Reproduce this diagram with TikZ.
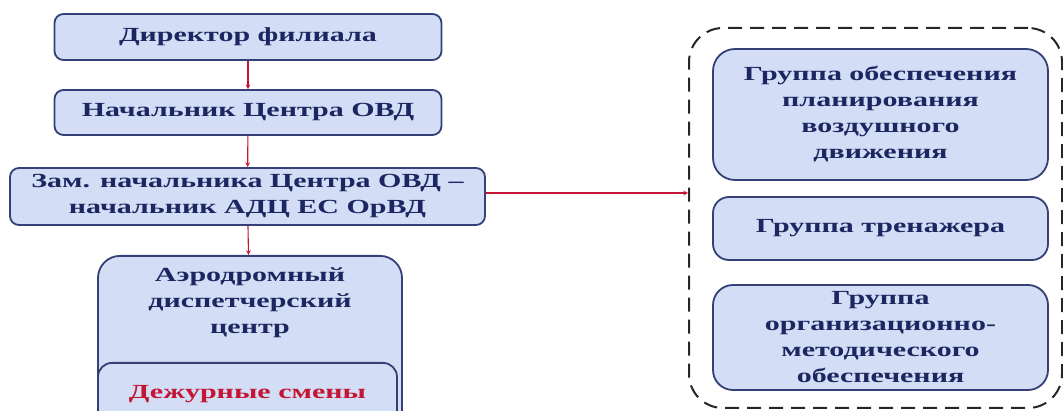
\documentclass[tikz,border=0pt]{standalone}
\usepackage{fontspec}
\setmainfont{Liberation Serif}
\newfontfamily\wideserif[FakeStretch=1.5]{Liberation Serif}
\usepackage{xcolor}
\definecolor{azulClaro}{RGB}{211, 221, 245}
\definecolor{azulBorde}{RGB}{52, 64, 118}
\definecolor{azulTexto}{RGB}{28, 38, 96}
\definecolor{rojo}{RGB}{196, 22, 52}
\usetikzlibrary{arrows,shapes,calc,positioning}
\tikzstyle{box}   =[rectangle, rounded corners=9pt, draw=azulBorde,
                    fill=azulClaro, line width=1.8pt, inner sep=0pt,
                    align=center, text=azulTexto,
                    font=\wideserif\bfseries\fontsize{20}{26}\selectfont]
\tikzstyle{link}  =[draw=rojo, line width=1.1pt, -stealth]
\tikzstyle{marco} =[rectangle, rounded corners=34pt, draw=black!85,
                    line width=2pt, dash pattern=on 14pt off 8pt]

\begin{document}
\begin{tikzpicture}[x=1pt,y=-1pt]
    \useasboundingbox (0,0) rectangle (1063,411);
    \clip (0,0) rectangle (1063,411);

        \begin{scope}[]
            \draw (248,37) node (dir) [box,minimum width=387pt,minimum height=46pt] {Директор филиала};
            \draw (248,112.5) node (nach) [box,minimum width=387pt,minimum height=45pt] {Начальник Центра ОВД};
            \draw (247.5,196.5) node (zam) [box,minimum width=475pt,minimum height=57pt] {Зам. начальника Центра ОВД –\\начальник АДЦ ЕС ОрВД};
            \draw (250,255) node (adc) [box,rounded corners=22pt,anchor=north,minimum width=304pt,minimum height=180pt,
                label={[anchor=north,yshift=-9pt,align=center,text=azulTexto,
                        font=\wideserif\bfseries\fontsize{20}{26}\selectfont]north:Аэродромный\\диспетчерский\\центр}] {};
            \draw (247.5,362) node (smeny) [box,rounded corners=14pt,anchor=north,minimum width=299pt,minimum height=62pt,text=rojo] {Дежурные смены};

            \foreach \i/\j in{dir/nach,nach/zam,zam/adc}
                \draw [link] (\i) to (\j);
        \end{scope}

        \begin{scope}[]
            \draw (875.5,218) node (grupos) [marco,minimum width=373pt,minimum height=380pt] {};
            \draw (880.5,114.5) node (plan) [box,rounded corners=22pt,minimum width=335pt,minimum height=131pt] {Группа обеспечения\\планирования\\воздушного\\движения};
            \draw (880.5,228.5) node (tren) [box,rounded corners=16pt,minimum width=335pt,minimum height=63pt] {Группа тренажера};
            \draw (880.5,337.5) node (org) [box,rounded corners=20pt,minimum width=335pt,minimum height=105pt] {Группа\\организационно-\\методического\\обеспечения};

            \coordinate (salida) at ($(zam.east)+(0,-3.5)$);
            \draw [link] (salida) to (salida -| grupos.west);
        \end{scope}

    \end{tikzpicture}
\end{document}
